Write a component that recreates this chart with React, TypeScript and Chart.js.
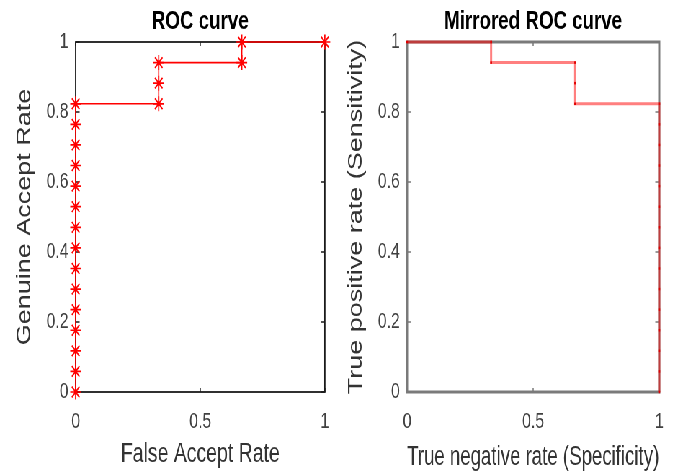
import React, { useEffect, useRef } from 'react';
import { Chart, registerables } from 'chart.js';

Chart.register(...registerables);

// ---- data ----
const falseAcceptRate = [0, 0, 0, 0, 0, 0, 0, 0, 0, 0, 0, 0, 0, 0, 0, 0.3333, 0.3333, 0.3333, 0.6667, 0.6667, 1];
const genuineAcceptRate = [0, 0.0588, 0.1176, 0.1765, 0.2353, 0.2941, 0.3529, 0.4118, 0.4706, 0.5294, 0.5882, 0.6471, 0.7059, 0.7647, 0.8235, 0.8235, 0.8824, 0.9412, 0.9412, 1, 1];
const specificity = [1, 1, 1, 1, 1, 1, 1, 1, 1, 1, 1, 1, 1, 1, 1, 0.6667, 0.6667, 0.6667, 0.3333, 0.3333, 0];
const sensitivity = [0, 0.0588, 0.1176, 0.1765, 0.2353, 0.2941, 0.3529, 0.4118, 0.4706, 0.5294, 0.5882, 0.6471, 0.7059, 0.7647, 0.8235, 0.8235, 0.8824, 0.9412, 0.9412, 1, 1];

const xTicks = [0, 0.5, 1];
const xTickLabels = ['0', '0.5', '1'];
const yTicks = [0, 0.2, 0.4, 0.6, 0.8, 1];
const yTickLabels = ['0', '0.2', '0.4', '0.6', '0.8', '1'];

const leftTitle = 'ROC curve';
const rightTitle = 'Mirrored ROC curve';
const leftXLabel = 'False Accept Rate';
const leftYLabel = 'Genuine Accept Rate';
const rightXLabel = 'True negative rate (Specificity)';
const rightYLabel = 'True positive rate (Sensitivity)';

const FONT = "'Liberation Sans', Arial, Helvetica, sans-serif";
const SCALE_X = 683 / 948;

function makeBox(color: string, width: number, tickWidth: number) {
  return {
    id: 'matlabBox',
    beforeDatasetsDraw(chart: any) {
      const { ctx, chartArea, scales } = chart;
      const { left, right, top, bottom } = chartArea;
      ctx.save();
      ctx.strokeStyle = color;
      ctx.lineWidth = width;
      ctx.strokeRect(left, top, right - left, bottom - top);
      ctx.lineWidth = tickWidth;
      ctx.beginPath();
      const xLen = 4;
      const yLen = 5.5;
      for (const v of xTicks) {
        const x = scales.x.getPixelForValue(v);
        ctx.moveTo(x, bottom);
        ctx.lineTo(x, bottom - xLen);
        ctx.moveTo(x, top);
        ctx.lineTo(x, top + xLen);
      }
      for (const v of yTicks) {
        const y = scales.y.getPixelForValue(v);
        ctx.moveTo(left, y);
        ctx.lineTo(left + yLen, y);
        ctx.moveTo(right, y);
        ctx.lineTo(right - yLen, y);
      }
      ctx.stroke();
      ctx.restore();
    },
  };
}

function buildConfig(opts: {
  xs: number[];
  ys: number[];
  title: string;
  xLabel: string;
  yLabel: string;
  yAxisWidth: number;
  rightPad: number;
  yTitlePad: number;
  xTitlePad: number;
  dataset: any;
  boxColor: string;
  boxWidth: number;
}): any {
  const points = opts.xs.map((x, i) => ({ x, y: opts.ys[i] }));
  return {
    type: 'scatter',
    data: {
      datasets: [
        {
          data: points,
          showLine: true,
          clip: false,
          ...opts.dataset,
        },
      ],
    },
    options: {
      animation: false,
      responsive: true,
      maintainAspectRatio: false,
      devicePixelRatio: 1,
      layout: { padding: { left: 0, right: opts.rightPad, top: 0, bottom: 0 } },
      plugins: {
        legend: { display: false },
        tooltip: { enabled: false },
        title: {
          display: true,
          text: opts.title,
          fullSize: false,
          color: '#000',
          font: { family: FONT, size: 26, weight: 'bold' },
          padding: { top: 6, bottom: 4.8 },
        },
      },
      scales: {
        x: {
          type: 'linear',
          min: 0,
          max: 1,
          grid: { display: false, drawTicks: false },
          border: { display: false },
          afterBuildTicks: (s: any) => {
            s.ticks = xTicks.map((v) => ({ value: v }));
          },
          afterFit: (s: any) => {
            s.height = 83;
          },
          ticks: {
            padding: 17,
            color: '#404040',
            font: { family: FONT, size: 22 },
            maxRotation: 0,
            autoSkip: false,
            callback: (v: number) => {
              const i = xTicks.indexOf(v);
              return i >= 0 ? xTickLabels[i] : String(v);
            },
          },
          title: {
            display: true,
            text: opts.xLabel,
            color: '#333',
            font: { family: FONT, size: 27 },
            padding: { top: 0, bottom: opts.xTitlePad },
          },
        },
        y: {
          type: 'linear',
          min: 0,
          max: 1,
          grid: { display: false, drawTicks: false },
          border: { display: false },
          afterBuildTicks: (s: any) => {
            s.ticks = yTicks.map((v) => ({ value: v }));
          },
          afterFit: (s: any) => {
            s.width = opts.yAxisWidth;
          },
          ticks: {
            padding: 10,
            color: '#404040',
            font: { family: FONT, size: 22 },
            autoSkip: false,
            callback: (v: number) => {
              const i = yTicks.indexOf(v);
              return i >= 0 ? yTickLabels[i] : String(v);
            },
          },
          title: {
            display: true,
            text: opts.yLabel,
            color: '#333',
            font: { family: FONT, size: 27 },
            padding: { top: opts.yTitlePad, bottom: 0 },
          },
        },
      },
    },
    plugins: [makeBox(opts.boxColor, opts.boxWidth, 1.5)],
  };
}

export default function App() {
  const leftRef = useRef<HTMLCanvasElement | null>(null);
  const rightRef = useRef<HTMLCanvasElement | null>(null);

  useEffect(() => {
    if (!leftRef.current || !rightRef.current) return;
    const left = new Chart(
      leftRef.current,
      buildConfig({
        xs: falseAcceptRate,
        ys: genuineAcceptRate,
        title: leftTitle,
        xLabel: leftXLabel,
        yLabel: leftYLabel,
        yAxisWidth: 105,
        rightPad: 20,
        yTitlePad: 18.5,
        xTitlePad: 4,
        boxColor: '#1a1a1a',
        boxWidth: 1.8,
        dataset: {
          borderColor: '#ff0000',
          borderWidth: 1.6,
          pointStyle: 'star',
          pointRadius: 7.5,
          pointHoverRadius: 7.5,
          pointBorderColor: '#ff0000',
          pointBackgroundColor: 'rgba(0,0,0,0)',
          pointBorderWidth: 1.7,
        },
      })
    );
    const right = new Chart(
      rightRef.current,
      buildConfig({
        xs: specificity,
        ys: sensitivity,
        title: rightTitle,
        xLabel: rightXLabel,
        yLabel: rightYLabel,
        yAxisWidth: 91,
        rightPad: 33,
        yTitlePad: 4.6,
        xTitlePad: 1,
        boxColor: '#7a7a7a',
        boxWidth: 3,
        dataset: {
          borderColor: 'rgba(255,0,0,0.5)',
          borderWidth: 3,
          pointStyle: 'rect',
          pointRadius: 1.8,
          pointHoverRadius: 1.8,
          pointBorderWidth: 0,
          pointBackgroundColor: '#e00000',
        },
      })
    );
    return () => {
      left.destroy();
      right.destroy();
    };
  }, []);

  return (
    <div
      style={{
        position: 'fixed',
        left: 0,
        top: 0,
        width: 683,
        height: 475,
        overflow: 'hidden',
        background: '#fff',
      }}
    >
      <div
        style={{
          width: 948,
          height: 475,
          display: 'flex',
          transform: `scaleX(${SCALE_X})`,
          transformOrigin: '0 0',
        }}
      >
        <div style={{ position: 'relative', width: 474, height: 475 }}>
          <canvas ref={leftRef} />
        </div>
        <div style={{ position: 'relative', width: 474, height: 475 }}>
          <canvas ref={rightRef} />
        </div>
      </div>
    </div>
  );
}
